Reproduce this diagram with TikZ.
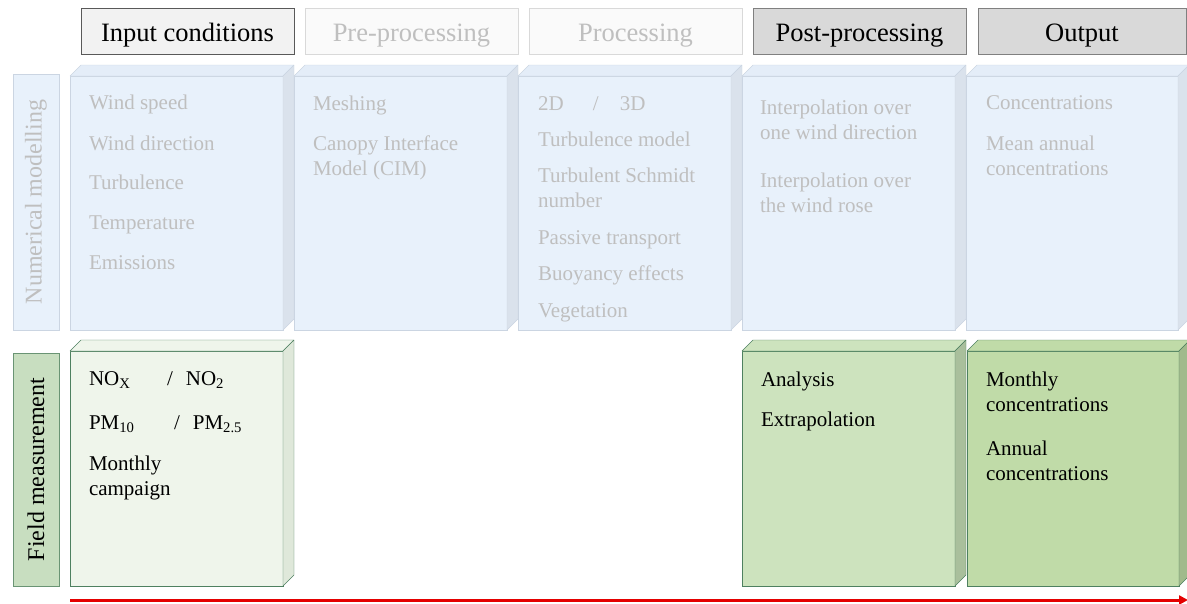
\documentclass[tikz,border=0pt]{standalone}
\usepackage{fontspec}
\setmainfont{Liberation Serif}
\usetikzlibrary{arrows.meta}
\definecolor{bluefront}{HTML}{E8F1FB}
\definecolor{bluetop}{HTML}{E4EDF8}
\definecolor{blueside}{HTML}{DAE2EC}
\definecolor{blueedge}{HTML}{CBD5E2}
\definecolor{greytext}{HTML}{BFBFBF}
\definecolor{gAfront}{HTML}{EFF5EB}
\definecolor{gAside}{HTML}{DFE8DA}
\definecolor{gBfront}{HTML}{CDE3BE}
\definecolor{gBside}{HTML}{A9BF9C}
\definecolor{gCfront}{HTML}{C0DBA8}
\definecolor{gCside}{HTML}{A1BA8C}
\definecolor{greenedge}{HTML}{4E8060}
\definecolor{fieldfill}{HTML}{C8DEC0}
\definecolor{fieldedge}{HTML}{6A9474}
\definecolor{arrowred}{RGB}{228,0,0}
\newcommand{\cubebox}[9]{%
  \node[cubefront, fill=#5, draw=#8, minimum height=#4pt, minimum width=#9pt, anchor=north west] (#1) at (#2,#3) {};
  \draw[draw=#8, fill=#6, line join=round] (#1.north west) -- ++(11,-11) -- ([shift={(11,-11)}]#1.north east) -- (#1.north east) -- cycle;
  \draw[draw=#8, fill=#7, line join=round] (#1.north east) -- ++(11,-11) -- ([shift={(11,-11)}]#1.south east) -- (#1.south east) -- cycle;
}
\tikzset{
  cubefront/.style={inner sep=0pt, outer sep=0pt, line width=1pt},
  hdr/.style={inner sep=0pt, minimum width=213pt, minimum height=46pt, line width=1pt,
    text height=20pt, text depth=0pt, font=\fontsize{26.5}{30}\selectfont},
  hdrA/.style={hdr, fill=black!5, draw=black!65, text=black},
  hdrB/.style={hdr, fill=black!2, draw=black!15, text=greytext},
  hdrC/.style={hdr, fill=black!15, draw=black!50, text=black},
  side/.style={inner sep=0pt, minimum height=46pt, line width=1pt, rotate=90, font=\fontsize{24}{28}\selectfont},
  item/.style={anchor=base west, inner sep=0pt, outer sep=0pt, align=left, font=\fontsize{21}{25}\selectfont},
  gitem/.style={item, text=greytext},
  kitem/.style={item, text=black},
}
\begin{document}
\begin{tikzpicture}[x=1pt, y=-1pt]
\useasboundingbox (0,0) rectangle (1187,603);
% headers
\node[hdrA] (h1) at (187.5,31.5) {Input conditions};
\node[hdrB] (h2) at (411.5,31.5) {Pre-processing};
\node[hdrB] (h3) at (635.5,31.5) {Processing};
\node[hdrC] (h4) at (859.5,31.5) {Post-processing};
\node[hdrC, minimum width=208pt] (h5) at (1082,31.5) {Output};
% side labels
\node[side, fill=bluefront, draw=blueedge, text=greytext, minimum width=256pt] (numlab) at (36,202) {Numerical modelling};
\node[side, fill=fieldfill, draw=fieldedge, text=black, minimum width=233pt] (fieldlab) at (36,469.5) {Field measurement};
% numerical modelling cubes
\cubebox{n1}{70}{76}{254}{bluefront}{bluetop}{blueside}{blueedge}{213}
\cubebox{n2}{294}{76}{254}{bluefront}{bluetop}{blueside}{blueedge}{213}
\cubebox{n3}{518}{76}{254}{bluefront}{bluetop}{blueside}{blueedge}{213}
\cubebox{n4}{742}{76}{254}{bluefront}{bluetop}{blueside}{blueedge}{213}
\cubebox{n5}{966}{76}{254}{bluefront}{bluetop}{blueside}{blueedge}{212}
% field measurement cubes
\cubebox{f1}{70}{351}{235}{gAfront}{gAfront}{gAside}{greenedge}{213}
\cubebox{f4}{742}{351}{235}{gBfront}{gBfront}{gBside}{greenedge}{213}
\cubebox{f5}{967}{351}{235}{gCfront}{gCfront}{gCside}{greenedge}{212}
% texts cube n1
\node[gitem] (t11) at (89,109) {Wind speed};
\node[gitem] (t12) at (89,150) {Wind direction};
\node[gitem] (t13) at (89,189) {Turbulence};
\node[gitem] (t14) at (89,229) {Temperature};
\node[gitem] (t15) at (89,269) {Emissions};
% n2 (base = last line)
\node[gitem] (t21) at (313,110) {Meshing};
\node[gitem] (t22) at (313,175) {Canopy Interface\\Model (CIM)};
% n3
\node[gitem] (t31) at (538,110) {\makebox[55pt][l]{2D}/\hspace{21pt}3D};
\node[gitem] (t32) at (538,146) {Turbulence model};
\node[gitem] (t33) at (538,207) {Turbulent Schmidt\\number};
\node[gitem] (t34) at (538,244) {Passive transport};
\node[gitem] (t35) at (538,280) {Buoyancy effects};
\node[gitem] (t36) at (538,317) {Vegetation};
% n4
\node[gitem] (t41) at (760,139) {Interpolation over\\one wind direction};
\node[gitem] (t42) at (760,212) {Interpolation over\\the wind rose};
% n5
\node[gitem] (t51) at (986,109) {Concentrations};
\node[gitem] (t52) at (986,175) {Mean annual\\concentrations};
% f1
\node[kitem] (u11) at (89,385) {\makebox[78pt][l]{NO\textsubscript{X}}/\hspace{13pt}NO\textsubscript{2}};
\node[kitem] (u12) at (89,429) {\makebox[85pt][l]{PM\textsubscript{10}}/\hspace{13pt}PM\textsubscript{2.5}};
\node[kitem] (u13) at (89,495) {Monthly\\campaign};
% f4
\node[kitem] (u41) at (761,386) {Analysis};
\node[kitem] (u42) at (761,426) {Extrapolation};
% f5
\node[kitem] (u51) at (986,411) {Monthly\\concentrations};
\node[kitem] (u52) at (986,480) {Annual\\concentrations};
% timeline arrow
\coordinate (tstart) at (70,600);
\coordinate (tend) at (1188,600);
\draw[arrowred, line width=3pt, -{Triangle[length=9pt,width=9pt]}] (tstart) -- (tend);
\end{tikzpicture}
\end{document}
